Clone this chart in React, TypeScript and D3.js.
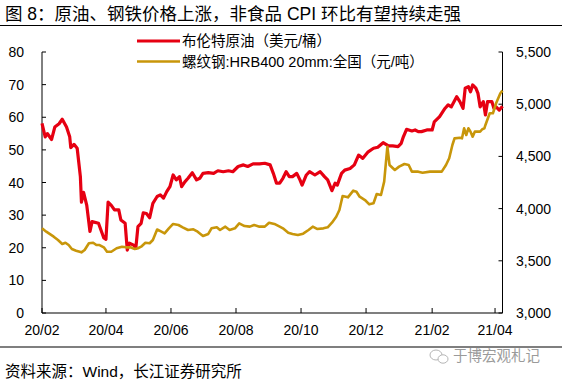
import React from "react";
import * as d3 from "d3";

const W = 562;
const H = 385;

const titleText = "图 8：原油、钢铁价格上涨，非食品 CPI 环比有望持续走强";
const sourceText = "资料来源：Wind，长江证券研究所";
const watermarkText = "于博宏观札记";
const legendLabels = ["布伦特原油（美元/桶）", "螺纹钢:HRB400 20mm:全国（元/吨）"];

const xTickDates = ["2020-02-01", "2020-04-01", "2020-06-01", "2020-08-01", "2020-10-01", "2020-12-01", "2021-02-01", "2021-04-01"];
const xTickLabels = ["20/02", "20/04", "20/06", "20/08", "20/10", "20/12", "21/02", "21/04"];
const leftTicks = [0, 10, 20, 30, 40, 50, 60, 70, 80];
const rightTicks = [3000, 3500, 4000, 4500, 5000, 5500];

const brentDates = [
  "2020-02-01", "2020-02-04", "2020-02-06", "2020-02-10", "2020-02-13", "2020-02-17", "2020-02-20", "2020-02-24", "2020-02-27", "2020-02-28",
  "2020-03-02", "2020-03-05", "2020-03-08", "2020-03-09", "2020-03-11", "2020-03-14", "2020-03-17", "2020-03-19", "2020-03-25", "2020-03-30",
  "2020-04-01", "2020-04-03", "2020-04-06", "2020-04-09", "2020-04-13", "2020-04-15", "2020-04-19", "2020-04-21", "2020-04-23", "2020-04-27",
  "2020-04-29", "2020-05-01", "2020-05-04", "2020-05-06", "2020-05-09", "2020-05-12", "2020-05-15", "2020-05-19", "2020-05-22", "2020-05-25",
  "2020-05-28", "2020-05-31", "2020-06-03", "2020-06-06", "2020-06-09", "2020-06-11", "2020-06-14", "2020-06-17", "2020-06-21", "2020-06-25",
  "2020-06-28", "2020-07-01", "2020-07-06", "2020-07-11", "2020-07-15", "2020-07-20", "2020-07-25", "2020-07-29", "2020-08-03", "2020-08-08",
  "2020-08-12", "2020-08-17", "2020-08-23", "2020-08-28", "2020-09-02", "2020-09-05", "2020-09-08", "2020-09-11", "2020-09-14", "2020-09-17",
  "2020-09-20", "2020-09-23", "2020-09-27", "2020-09-30", "2020-10-02", "2020-10-06", "2020-10-09", "2020-10-14", "2020-10-19", "2020-10-23",
  "2020-10-26", "2020-10-30", "2020-11-02", "2020-11-04", "2020-11-08", "2020-11-11", "2020-11-16", "2020-11-20", "2020-11-24", "2020-11-28",
  "2020-12-03", "2020-12-08", "2020-12-12", "2020-12-17", "2020-12-22", "2020-12-26", "2020-12-31", "2021-01-03", "2021-01-05", "2021-01-08",
  "2021-01-13", "2021-01-16", "2021-01-19", "2021-01-22", "2021-01-27", "2021-02-01", "2021-02-03", "2021-02-08", "2021-02-13", "2021-02-16",
  "2021-02-19", "2021-02-24", "2021-02-27", "2021-03-02", "2021-03-04", "2021-03-07", "2021-03-09", "2021-03-11", "2021-03-14", "2021-03-16",
  "2021-03-18", "2021-03-21", "2021-03-23", "2021-03-25", "2021-03-29", "2021-03-31", "2021-04-02", "2021-04-05", "2021-04-08",
];
const brentValues = [
  58.1, 54, 55, 53.2, 57, 58, 59.4, 57, 54, 50.7,
  51.7, 50.5, 41.8, 34, 37, 33, 25, 28, 27.5, 23,
  22.6, 34, 33, 31.6, 31.6, 28.5, 27.5, 19.3, 21.4, 20.8,
  19.8, 26.5, 27.5, 30.7, 30.5, 29.2, 33.6, 35.7, 36.2, 35.2,
  37.2, 38.7, 42.3, 40.8, 41.8, 38.7, 40.2, 41.3, 43, 40.8,
  41.3, 42.8, 43, 42.8, 43.6, 43.3, 43.6, 43.3, 44.9, 45.4,
  44.9, 45.7, 45.7, 45.9, 45.4, 42.8, 39.8, 39.8, 41.3, 43.3,
  41.8, 41.8, 42.8, 40.8, 39.2, 42.3, 43.3, 42.3, 43.3, 41.8,
  40.8, 37.5, 39.8, 39.2, 42.8, 43.8, 44.3, 45.4, 48.4, 47.4,
  49.4, 50.5, 50.8, 52.2, 51.2, 51.2, 51, 52, 54, 56.3,
  55.8, 56.1, 55.6, 55.6, 56.1, 56.1, 58.6, 60.2, 62.7, 63.8,
  63.2, 66.3, 64.8, 62.7, 68.9, 69.4, 67.8, 69.9, 68.9, 67.3,
  63.2, 64.8, 60.7, 64.8, 64.8, 62.7, 63.2, 62.2, 63.4,
];

const rebarDates = [
  "2020-02-01", "2020-02-05", "2020-02-12", "2020-02-16", "2020-02-20", "2020-02-23", "2020-02-26", "2020-02-29", "2020-03-04", "2020-03-09",
  "2020-03-12", "2020-03-16", "2020-03-20", "2020-03-23", "2020-03-26", "2020-03-30", "2020-04-02", "2020-04-06", "2020-04-11", "2020-04-16",
  "2020-04-20", "2020-04-24", "2020-04-28", "2020-05-01", "2020-05-04", "2020-05-08", "2020-05-12", "2020-05-15", "2020-05-19", "2020-05-23",
  "2020-05-26", "2020-05-30", "2020-06-03", "2020-06-08", "2020-06-12", "2020-06-17", "2020-06-22", "2020-06-26", "2020-07-01", "2020-07-06",
  "2020-07-09", "2020-07-14", "2020-07-17", "2020-07-22", "2020-07-26", "2020-07-31", "2020-08-04", "2020-08-09", "2020-08-14", "2020-08-18",
  "2020-08-23", "2020-08-28", "2020-09-01", "2020-09-06", "2020-09-11", "2020-09-14", "2020-09-19", "2020-09-23", "2020-09-28", "2020-10-03",
  "2020-10-08", "2020-10-12", "2020-10-16", "2020-10-22", "2020-10-26", "2020-10-30", "2020-11-03", "2020-11-06", "2020-11-09", "2020-11-14",
  "2020-11-19", "2020-11-22", "2020-11-25", "2020-11-30", "2020-12-04", "2020-12-08", "2020-12-11", "2020-12-15", "2020-12-18", "2020-12-21",
  "2020-12-23", "2020-12-28", "2021-01-01", "2021-01-06", "2021-01-10", "2021-01-13", "2021-01-19", "2021-01-23", "2021-01-30", "2021-02-05",
  "2021-02-10", "2021-02-14", "2021-02-17", "2021-02-20", "2021-02-22", "2021-02-27", "2021-03-01", "2021-03-03", "2021-03-05", "2021-03-07",
  "2021-03-09", "2021-03-11", "2021-03-13", "2021-03-18", "2021-03-20", "2021-03-22", "2021-03-23", "2021-03-27", "2021-03-30", "2021-04-02",
  "2021-04-06", "2021-04-08",
];
const rebarValues = [
  3811, 3779, 3731, 3699, 3661, 3673, 3651, 3613, 3597, 3581,
  3603, 3668, 3673, 3651, 3651, 3629, 3587, 3587, 3620, 3635,
  3629, 3629, 3613, 3620, 3635, 3673, 3668, 3699, 3800, 3779,
  3763, 3811, 3853, 3843, 3821, 3795, 3802, 3779, 3738, 3757,
  3811, 3821, 3795, 3827, 3795, 3811, 3859, 3833, 3827, 3843,
  3827, 3827, 3865, 3853, 3827, 3811, 3769, 3757, 3747, 3760,
  3795, 3827, 3805, 3811, 3821, 3865, 3922, 3987, 4121, 4108,
  4172, 4162, 4114, 4082, 4041, 4051, 4140, 4130, 4258, 4593,
  4418, 4370, 4402, 4427, 4418, 4354, 4354, 4344, 4354, 4354,
  4354, 4418, 4482, 4609, 4673, 4679, 4673, 4769, 4705, 4769,
  4737, 4689, 4737, 4737, 4760, 4769, 4801, 4913, 4913, 5009,
  5105, 5130,
];

const FONT = "'Liberation Sans', Arial, 'Noto Sans CJK SC', sans-serif";
const RED = "#E60012";
const GOLD = "#C8960A";

export default function App() {
  const parse = d3.timeParse("%Y-%m-%d");
  const left = 42;
  const right = 502.5;
  const top = 52;
  const bottom = 313;

  const x = d3.scaleTime()
    .domain([parse("2020-02-01") as Date, parse("2021-04-08") as Date])
    .range([left, right]);
  const yL = d3.scaleLinear().domain([0, 80]).range([bottom, top]);
  const yR = d3.scaleLinear().domain([3000, 5500]).range([bottom, top]);

  const brent = brentDates.map((d, i) => ({ date: parse(d) as Date, v: brentValues[i] }));
  const rebar = rebarDates.map((d, i) => ({ date: parse(d) as Date, v: rebarValues[i] }));

  const lineL = d3.line<{ date: Date; v: number }>().x((d) => x(d.date)).y((d) => yL(d.v));
  const lineR = d3.line<{ date: Date; v: number }>().x((d) => x(d.date)).y((d) => yR(d.v));

  const fmt = d3.format(",");

  return (
    <svg width={W} height={H} style={{ position: "absolute", left: 0, top: 0, background: "#fff" }} fontFamily={FONT}>
      <rect x={0} y={0} width={W} height={H} fill="#fff" />
      {/* Title */}
      <text x={5} y={20} fontSize={17.5} fill="#000">{titleText}</text>
      <line x1={0} x2={W} y1={25.5} y2={25.5} stroke="#000" strokeWidth={1.2} />

      {/* Legend */}
      <line x1={137} x2={180} y1={41} y2={41} stroke={RED} strokeWidth={3.2} />
      <text x={182} y={46} fontSize={14.5} fill="#000">{legendLabels[0]}</text>
      <line x1={137} x2={180} y1={61.5} y2={61.5} stroke={GOLD} strokeWidth={2.6} />
      <text x={182} y={66.5} fontSize={14.5} fill="#000">{legendLabels[1]}</text>

      {/* Axes */}
      <line x1={left} x2={left} y1={top} y2={bottom} stroke="#000" strokeWidth={1} />
      <line x1={right} x2={right} y1={top} y2={bottom} stroke="#000" strokeWidth={1} />
      <line x1={left} x2={right} y1={bottom} y2={bottom} stroke="#000" strokeWidth={1.2} />

      {leftTicks.map((t) => (
        <g key={"l" + t}>
          <line x1={left} x2={left + 4} y1={yL(t)} y2={yL(t)} stroke="#000" />
          <text x={24} y={yL(t)} dy="0.36em" textAnchor="end" fontSize={14} fill="#000">{t}</text>
        </g>
      ))}
      {rightTicks.map((t) => (
        <g key={"r" + t}>
          <line x1={right - 4} x2={right} y1={yR(t)} y2={yR(t)} stroke="#000" />
          <text x={516} y={yR(t)} dy="0.36em" textAnchor="start" fontSize={14} fill="#000">{fmt(t)}</text>
        </g>
      ))}
      {xTickDates.map((d, i) => {
        const xx = x(parse(d) as Date);
        return (
          <g key={"x" + d}>
            <line x1={xx} x2={xx} y1={bottom} y2={bottom - 5} stroke="#000" />
            <text x={xx} y={335} textAnchor="middle" fontSize={14} fill="#000">{xTickLabels[i]}</text>
          </g>
        );
      })}

      {/* Series */}
      <path d={lineL(brent) || ""} fill="none" stroke={RED} strokeWidth={3.2} strokeLinejoin="round" />
      <path d={lineR(rebar) || ""} fill="none" stroke={GOLD} strokeWidth={2.6} strokeLinejoin="round" />

      {/* Footer */}
      <line x1={0} x2={W} y1={347} y2={347} stroke="#000" strokeWidth={1.2} />
      <text x={5} y={377} fontSize={15.5} fill="#000">{sourceText}</text>
      <g stroke="#b5b5b5" fill="#fff" strokeWidth={1}>
        <ellipse cx={436} cy={355} rx={6} ry={5} />
        <ellipse cx={443} cy={359} rx={5} ry={4.2} />
      </g>
      <text x={453} y={361} fontSize={14.5} fill="#9a9a9a">{watermarkText}</text>
    </svg>
  );
}
